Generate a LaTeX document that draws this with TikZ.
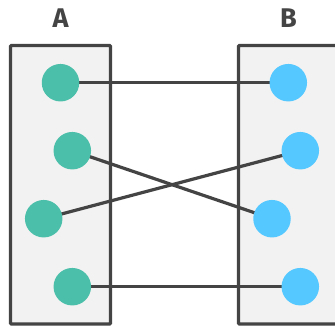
\documentclass[tikz,border=0pt]{standalone}
\usepackage{fontspec}
\setmainfont{Fira Sans}
\definecolor{dgray}{HTML}{444444}
\definecolor{boxfill}{HTML}{F2F2F2}
\definecolor{tealc}{HTML}{4BBFA9}
\definecolor{bluec}{HTML}{55C8FF}
\begin{document}
\begin{tikzpicture}[x=1pt,y=-1pt,
  setbox/.style={draw=dgray,fill=boxfill,line width=3.2pt},
  aitem/.style={circle,fill=tealc,minimum size=37.5pt,inner sep=0pt},
  bitem/.style={circle,fill=bluec,minimum size=37.5pt,inner sep=0pt},
  link/.style={draw=dgray,line width=3.2pt},
  setlabel/.style={text=dgray,font=\fontsize{27}{30}\selectfont\bfseries,inner sep=0pt}]
\useasboundingbox (0,0) rectangle (335,327);
\clip (0,0) rectangle (335,327);
\draw[setbox,rounded corners=1pt] (10.5,45.5) rectangle (110.5,324);
\draw[setbox,rounded corners=1pt] (238.5,45.5) rectangle (345,324);
\node[setlabel] (la) at (60.5,18) {A};
\node[setlabel] (lb) at (288.5,18) {B};
\coordinate (a1) at (60.5,82.7);
\coordinate (a2) at (72.3,150.7);
\coordinate (a3) at (43.7,218.7);
\coordinate (a4) at (72.3,286.7);
\coordinate (b1) at (288.3,82.7);
\coordinate (b2) at (300.3,150.7);
\coordinate (b3) at (272,218.7);
\coordinate (b4) at (300.3,286.7);
\draw[link] (a1) -- (b1);
\draw[link] (a2) -- (b3);
\draw[link] (a3) -- (b2);
\draw[link] (a4) -- (b4);
\node[aitem] (na1) at (a1) {};
\node[aitem] (na2) at (a2) {};
\node[aitem] (na3) at (a3) {};
\node[aitem] (na4) at (a4) {};
\node[bitem] (nb1) at (b1) {};
\node[bitem] (nb2) at (b2) {};
\node[bitem] (nb3) at (b3) {};
\node[bitem] (nb4) at (b4) {};
\end{tikzpicture}
\end{document}
